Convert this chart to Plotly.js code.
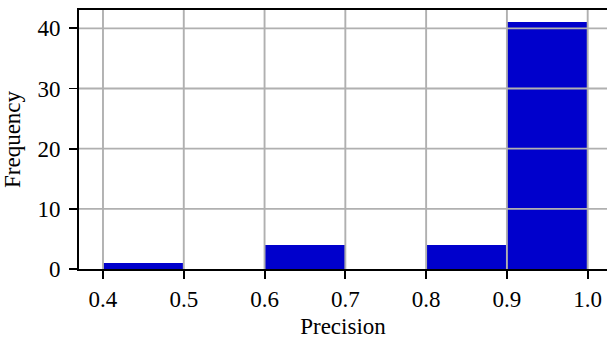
<!DOCTYPE html>
<html>
<head>
<meta charset="utf-8">
<script src="https://cdn.plot.ly/plotly-3.0.1.min.js"></script>
<style>html,body{margin:0;padding:0;background:#fff;}#chart{width:607px;height:339px;}</style>
</head>
<body>
<div id="chart"></div>
<script>
// Histogram bins (left edges) and counts
const binLeft = [0.4, 0.5, 0.6, 0.7, 0.8, 0.9];
const binWidth = 0.1;
const counts = [1, 0, 4, 0, 4, 41];
const xTicks = [0.4, 0.5, 0.6, 0.7, 0.8, 0.9, 1.0];
const xTickText = ['0.4', '0.5', '0.6', '0.7', '0.8', '0.9', '1.0'];
const yTicks = [0, 10, 20, 30, 40];
const yTickText = ['0', '10', '20', '30', '40'];

const fam = '"Liberation Serif", "Times New Roman", serif';
const font = {family: fam, size: 23, color: '#000'};
const gridColor = '#b0b0b0';
const gridShapes = [];
xTicks.forEach(v => gridShapes.push({type: 'line', layer: 'above', xref: 'x', yref: 'paper', x0: v, x1: v, y0: 0, y1: 1, line: {color: gridColor, width: 1.9}}));
yTicks.filter(v => v !== 0).forEach(v => gridShapes.push({type: 'line', layer: 'above', xref: 'paper', yref: 'y', x0: 0, x1: 1, y0: v, y1: v, line: {color: gridColor, width: 1.9}}));

const trace = {
  type: 'bar',
  x: binLeft,
  y: counts,
  width: binLeft.map(() => binWidth),
  offset: 0,
  marker: {color: '#0000cc', line: {width: 0}},
  hoverinfo: 'skip'
};

const layout = {
  width: 607, height: 339,
  margin: {l: 79, r: 0, t: 10, b: 70, pad: 0},
  paper_bgcolor: '#fff', plot_bgcolor: '#fff',
  font: font,
  showlegend: false,
  bargap: 0,
  xaxis: {
    range: [0.3703, 1.0239],
    tickvals: xTicks, ticktext: xTickText,
    showgrid: false, zeroline: false,
    showline: true, linecolor: '#000', linewidth: 1.9, mirror: true,
    ticks: 'outside', ticklen: 8, tickwidth: 1.9, tickcolor: '#000',
    tickfont: {family: fam, size: 23, color: '#000'},
    title: {text: 'Precision', font: {family: fam, size: 23, color: '#000'}, standoff: 14},
    automargin: false
  },
  yaxis: {
    range: [0, 43.05],
    tickvals: yTicks, ticktext: yTickText,
    showgrid: false, zeroline: false,
    showline: true, linecolor: '#000', linewidth: 1.9,
    ticks: 'outside', ticklen: 8, tickwidth: 1.9, tickcolor: '#000',
    tickfont: {family: fam, size: 23, color: '#000'},
    ticklabelstandoff: 4,
    title: {text: 'Frequency', font: {family: fam, size: 23, color: '#000'}, standoff: 12},
    automargin: false
  },
  shapes: gridShapes
};

Plotly.newPlot('chart', [trace], layout, {displayModeBar: false, staticPlot: true});
</script>
</body>
</html>
